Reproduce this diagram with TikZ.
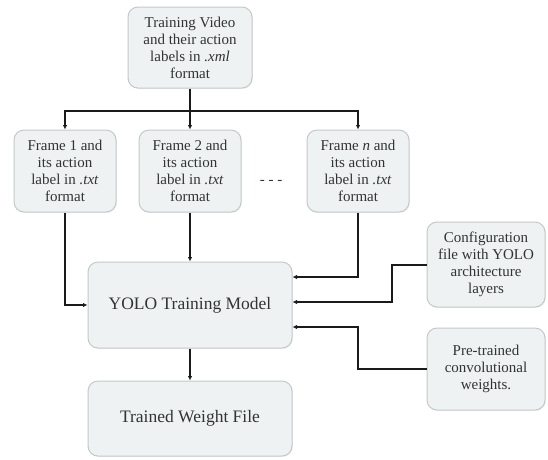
\documentclass[tikz,border=0pt]{standalone}
\usepackage{fontspec}
\setmainfont{Liberation Serif}
\usetikzlibrary{arrows.meta,shadows}

\definecolor{boxfill}{HTML}{EFF2F2}
\definecolor{boxline}{HTML}{C3C9C9}
\definecolor{ink}{HTML}{333333}
\definecolor{wire}{HTML}{1A1A1A}

\tikzset{
  procbox/.style={draw=boxline, fill=boxfill, line width=1pt, rounded corners=10pt,
    align=center, text=ink, inner sep=2pt,
    font=\fontsize{15}{17}\selectfont,
    drop shadow={opacity=0.10, shadow xshift=1pt, shadow yshift=-1pt}},
  bigbox/.style={procbox, font=\fontsize{17.5}{21}\selectfont},
  flow/.style={draw=wire, line width=2pt, -{Latex[length=4.5pt,width=4.5pt]}},
  wireline/.style={draw=wire, line width=2pt}
}

\begin{document}
\begin{tikzpicture}[x=1pt,y=-1pt]
\useasboundingbox (0,0) rectangle (548,459);

% input video and the extracted frames
\node[procbox, minimum width=124pt, minimum height=81pt] (video) at (190,47.5)
  {Training Video\\and their action\\labels in \textit{.xml}\\format};
\node[procbox, minimum width=102pt, minimum height=82pt] (f1) at (65,171)
  {Frame 1 and\\its action\\label in \textit{.txt}\\format};
\node[procbox, minimum width=102pt, minimum height=82pt] (f2) at (190,171)
  {Frame 2 and\\its action\\label in \textit{.txt}\\format};
\node[procbox, minimum width=102pt, minimum height=82pt] (fn) at (358,171)
  {Frame \textit{n} and\\its action\\label in \textit{.txt}\\format};
\node[text=ink, font=\fontsize{15}{17}\selectfont] (dots) at (271,182) {- - -};

% training stage and its auxiliary inputs
\node[bigbox, minimum width=204pt, minimum height=86pt] (yolo) at (190,305)
  {YOLO Training Model};
\node[bigbox, minimum width=204pt, minimum height=75pt] (weights) at (190,418.5)
  {Trained Weight File};
\node[procbox, minimum width=118pt, minimum height=85pt] (config) at (486,264.5)
  {Configuration\\file with YOLO\\architecture\\layers};
\node[procbox, minimum width=118pt, minimum height=82pt] (pre) at (486,369)
  {Pre-trained\\convolutional\\weights.};

% distribution bus from the video to every frame
\coordinate (bus) at (190,111);
\draw[wireline] (video.south) -- (bus);
\draw[flow] (bus) -| (f1.north);
\draw[flow] (bus) -- (f2.north);
\draw[flow] (bus) -| (fn.north);

% frames into the training model
\draw[flow] (f1.south) |- (yolo.west);
\draw[flow] (f2.south) -- (yolo.north);
\draw[flow] (fn.south) |- ([yshift=28pt]yolo.east);

% configuration and pre-trained weights into the model
\draw[flow] (config.west) -- ++(-35,0) |- ([yshift=3pt]yolo.east);
\draw[flow] (pre.west) -- ++(-69,0) |- ([yshift=-22pt]yolo.east);

% output
\draw[flow] (yolo.south) -- (weights.north);
\end{tikzpicture}
\end{document}
